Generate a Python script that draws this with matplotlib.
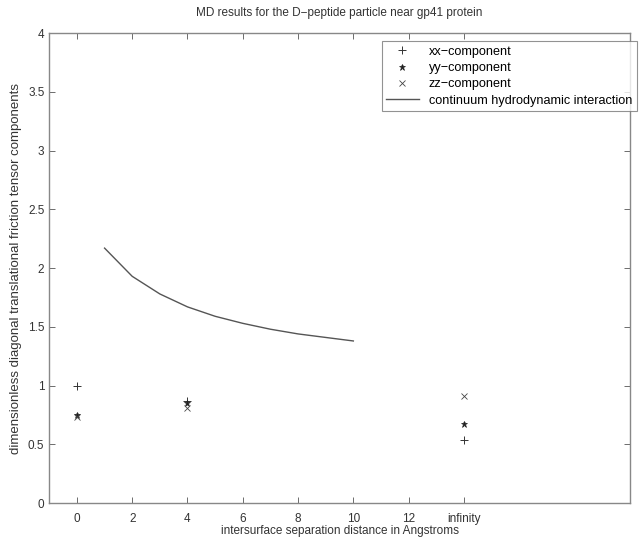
import matplotlib
matplotlib.use("Agg")
import matplotlib.pyplot as plt

plt.rcParams["font.family"] = ["Liberation Sans", "DejaVu Sans"]
plt.rcParams["font.size"] = 8.5

# MD results (x = 14 stands for "infinity")
x_md = [0, 4, 14]
xx_vals = [1.00, 0.87, 0.54]
yy_vals = [0.75, 0.85, 0.67]
zz_vals = [0.73, 0.81, 0.91]

# continuum hydrodynamic interaction curve
x_cont = [1, 2, 3, 4, 5, 6, 7, 8, 9, 10]
y_cont = [2.17, 1.93, 1.78, 1.67, 1.59, 1.53, 1.48, 1.44, 1.41, 1.38]

xtick_pos = [0, 2, 4, 6, 8, 10, 12, 14]
xtick_labels = ["0", "2", "4", "6", "8", "10", "12", "infinity"]

fig = plt.figure(figsize=(6.4, 5.37), dpi=100)
ax = fig.add_axes([0.077, 0.063, 0.907, 0.8755])

ax.plot(x_md, xx_vals, "+", color="#333333", ms=6, mew=0.7, label="xx\u2212component")
ax.plot(x_md, yy_vals, "*", color="#222222", ms=5, mew=0.5, label="yy\u2212component")
ax.plot(x_md, zz_vals, "x", color="#444444", ms=4, mew=0.6, label="zz\u2212component")
ax.plot(x_cont, y_cont, "-", color="#555555", lw=1.0,
        label="continuum hydrodynamic interaction")

ax.set_xlim(-1, 20)
ax.set_ylim(0, 4)
ax.set_xticks(xtick_pos)
ax.set_xticklabels(xtick_labels)
ax.set_yticks([0, 0.5, 1, 1.5, 2, 2.5, 3, 3.5, 4])
ax.set_yticklabels(["0", "0.5", "1", "1.5", "2", "2.5", "3", "3.5", "4"])
ax.tick_params(direction="in", top=True, right=True, length=4, width=0.6,
               colors="#555555", labelcolor="#333333", labelsize=8.5)
ax.tick_params(axis="x", pad=7)
for s in ax.spines.values():
    s.set_color("#888888")
    s.set_linewidth(1.0)

ax.set_xlabel("intersurface separation distance in Angstroms", color="#333333", labelpad=0)
ax.set_ylabel("dimensionless diagonal translational friction tensor components",
              color="#333333", labelpad=4, fontsize=9.5)
ax.set_title("MD results for the D\u2212peptide particle near gp41 protein", color="#333333",
             fontsize=8.5, pad=12)

leg = ax.legend(loc="upper right", bbox_to_anchor=(1.023, 0.996), fontsize=9.1, frameon=True,
                fancybox=False, edgecolor="#777777", handlelength=2.6, borderpad=0.35,
                labelspacing=0.35, handletextpad=0.8)
leg.get_frame().set_linewidth(0.8)

fig.savefig("out.png", dpi=100)
